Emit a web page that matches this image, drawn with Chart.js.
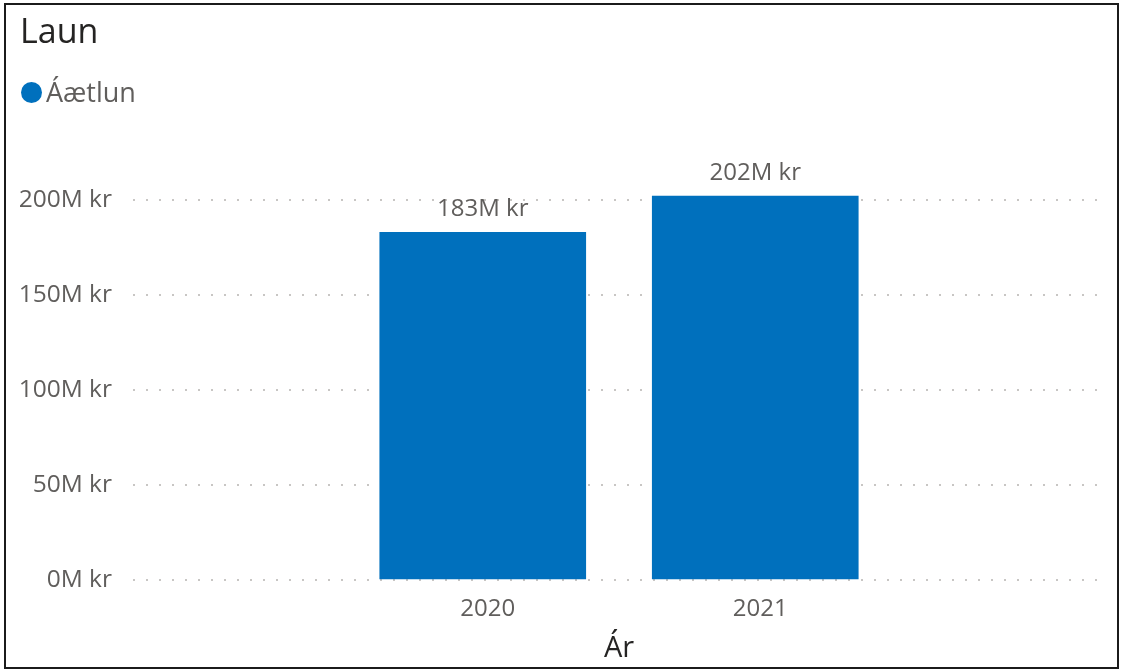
<!DOCTYPE html>
<html>
<head>
<meta charset="utf-8">
<script src="https://cdn.jsdelivr.net/npm/chart.js@4/dist/chart.umd.min.js"></script>
<style>
  html, body { margin: 0; padding: 0; background: #fff; }
  #wrap { position: relative; width: 1121px; height: 670px; }
  #c { position: absolute; left: 0; top: 0; }
  #frame { position: absolute; left: 4px; top: 3px; width: 1115px; height: 666px; box-sizing: border-box; border: 2px solid #1b1b1b; pointer-events: none; }
</style>
</head>
<body>
<div id="wrap">
  <canvas id="c" width="1121" height="670"></canvas>
  <div id="frame"></div>
</div>
<script>
const chartTitle = 'Laun';
const seriesName = 'Áætlun';
const xAxisTitle = 'Ár';
const categories = ['2020', '2021'];
const values = [183, 202];
const yTickValues = [0, 50, 100, 150, 200];
const unitSuffix = 'M kr';

const barColor = '#0070BD';
const FONT = "'Segoe UI', 'Open Sans', 'Noto Sans', sans-serif";

const headerPlugin = {
  id: 'header',
  afterDraw(chart) {
    const ctx = chart.ctx;
    ctx.save();
    ctx.fillStyle = '#252423';
    ctx.font = '34px ' + FONT;
    ctx.textAlign = 'left';
    ctx.textBaseline = 'alphabetic';
    ctx.fillText(chartTitle, 20, 43);
    const ds = chart.data.datasets[0];
    ctx.fillStyle = ds.backgroundColor;
    ctx.beginPath();
    ctx.arc(31.5, 92.5, 10.5, 0, Math.PI * 2);
    ctx.fill();
    ctx.fillStyle = '#605E5C';
    ctx.font = '27px ' + FONT;
    ctx.fillText(ds.label, 46, 102);
    ctx.restore();
  }
};

const dataLabelPlugin = {
  id: 'dataLabels',
  afterDatasetsDraw(chart) {
    const ctx = chart.ctx;
    ctx.save();
    ctx.fillStyle = '#605E5C';
    ctx.font = '24px ' + FONT;
    ctx.textAlign = 'center';
    ctx.textBaseline = 'alphabetic';
    chart.getDatasetMeta(0).data.forEach((bar, i) => {
      ctx.fillText(values[i] + unitSuffix, bar.x, bar.y - 16);
    });
    ctx.restore();
  }
};

new Chart(document.getElementById('c'), {
  type: 'bar',
  data: {
    datasets: [{
      label: seriesName,
      data: values.map((v, i) => ({ x: i, y: v })),
      backgroundColor: barColor,
      barThickness: 206,
      borderWidth: 0
    }]
  },
  options: {
    responsive: false,
    animation: false,
    events: [],
    layout: { padding: { left: 20, right: 16, top: 181, bottom: 7 } },
    plugins: {
      legend: { display: false },
      title: { display: false },
      tooltip: { enabled: false }
    },
    scales: {
      x: {
        type: 'linear',
        offset: false,
        min: -1.2835,
        max: 2.2835,
        grid: { display: false },
        border: { display: false },
        afterBuildTicks(scale) { scale.ticks = categories.map((c, i) => ({ value: i })); },
        afterFit(scale) { scale.height = 83; },
        ticks: {
          autoSkip: false,
          maxRotation: 0,
          padding: 7,
          labelOffset: 5,
          color: '#605E5C',
          font: { family: FONT, size: 24 },
          callback: (v) => categories[v]
        },
        title: {
          display: true,
          text: xAxisTitle,
          color: '#252423',
          padding: 0,
          font: { family: FONT, size: 29, lineHeight: 1 }
        }
      },
      y: {
        min: 0,
        max: 210,
        afterBuildTicks(scale) { scale.ticks = yTickValues.map(v => ({ value: v })); },
        afterFit(scale) { scale.width = 113; },
        grid: { color: '#C8C6C4', lineWidth: 2, drawTicks: false },
        border: { display: false, dash: [2, 11] },
        ticks: {
          padding: 21,
          color: '#605E5C',
          font: { family: FONT, size: 24.5 },
          callback: (v) => v + unitSuffix
        }
      }
    }
  },
  plugins: [headerPlugin, dataLabelPlugin]
});
</script>
</body>
</html>
